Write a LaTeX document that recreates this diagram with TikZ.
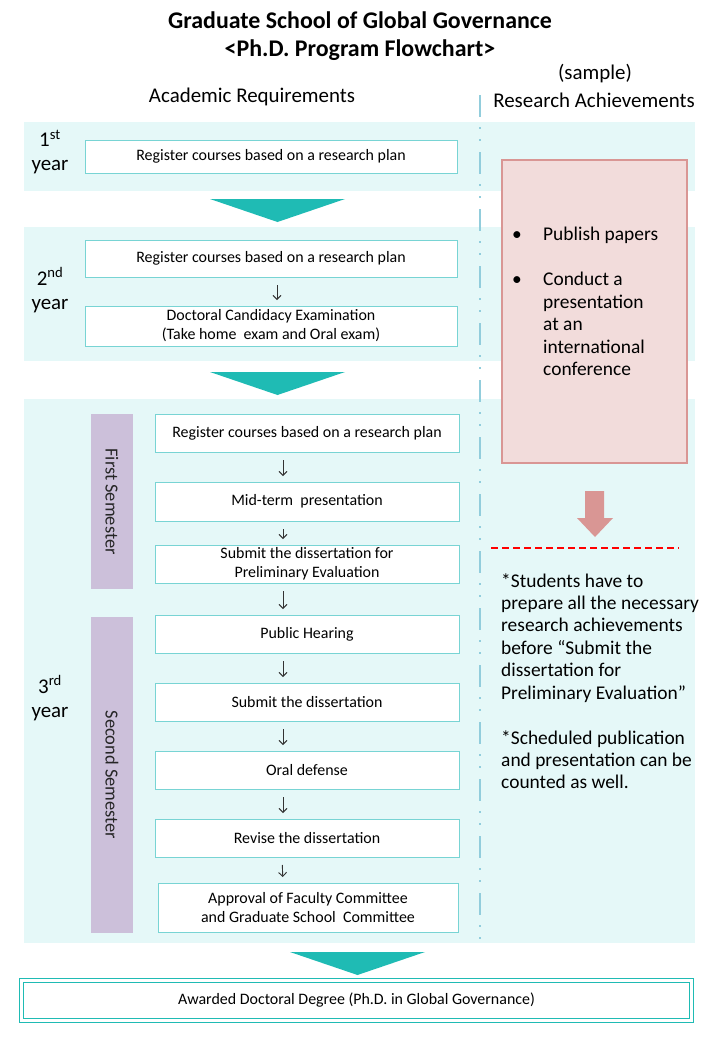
\documentclass[tikz,border=0pt]{standalone}
\usepackage{fontspec}
\setmainfont{Carlito}
\usetikzlibrary{shapes}
\usetikzlibrary{positioning}
\usetikzlibrary{arrows.meta}
\definecolor{bandc}{RGB}{229,248,248}
\definecolor{boxline}{RGB}{120,212,212}
\definecolor{chevc}{RGB}{31,187,180}
\definecolor{semc}{RGB}{204,192,218}
\definecolor{pinkfill}{RGB}{242,220,219}
\definecolor{pinkline}{RGB}{217,150,148}
\definecolor{divc}{RGB}{146,205,220}
\tikzset{
    band/.style = {rectangle, fill=bandc, draw=none, inner sep=0, outer sep=0},
    stepbox/.style = {rectangle, draw=boxline, line width=0.8bp, fill=white, align=center, inner sep=0, outer sep=0, font=\fontsize{16}{19}\selectfont, text=black},
    yearlab/.style = {align=center, font=\fontsize{21}{24}\selectfont, text=black},
    sembar/.style = {rectangle, fill=semc, minimum height=42bp, inner sep=0, rotate=-90, font=\fontsize{18.5}{20}\selectfont, text=black!85},
    headlab/.style = {font=\fontsize{21}{24}\selectfont, text=black},
    flowarr/.style = {-{Straight Barb[length=4bp,width=8bp]}, line width=0.9bp, black!80, shorten <=8bp, shorten >=6bp},
    chev/.style = {fill=chevc, draw=none},
    divider/.style = {divc, line width=2.5bp, dash pattern=on 22bp off 10bp on 2bp off 10bp on 2bp off 11bp},
    notetext/.style = {align=left, anchor=north west, inner sep=0, font=\fontsize{19.5}{22.5}\selectfont, text=black}
}

\begin{document}
\begin{tikzpicture}[x=1bp,y=-1bp]
\useasboundingbox (0,0) rectangle (720,1040);

% title and column heads
\node[font=\fontsize{24}{28}\selectfont\bfseries, align=center] (title) at (360,36) {Graduate School of Global Governance\\<Ph.D. Program Flowchart>};
\node[headlab] (sample) at (595,74) {(sample)};
\node[headlab] (acadhead) at (252,97) {Academic Requirements};
\node[headlab] (reshead) at (594,100) {Research\ Achievements};

% year bands
\node[band, minimum width=671bp, minimum height=69bp] (band1) at (359.5,156.5) {};
\node[band, minimum width=671bp, minimum height=134bp] (band2) at (359.5,294) {};
\node[band, minimum width=671bp, minimum height=544bp] (band3) at (359.5,671) {};

% divider
\coordinate (divtop) at (480,95);
\coordinate (divbot) at (480,950);
\draw[divider] (divtop) -- (divbot);

% chevrons
\fill[chev] (210,199) -- (345,199) -- (277.5,222) -- cycle;
\fill[chev] (210,372) -- (345,372) -- (277.5,395) -- cycle;
\fill[chev] (290,952) -- (425,952) -- (357.5,975) -- cycle;

% year labels
\node[yearlab] (y1) at (50,152) {1\textsuperscript{st}\\year};
\node[yearlab] (y2) at (50,290) {2\textsuperscript{nd}\\year};
\node[yearlab] (y3) at (50,698) {3\textsuperscript{rd}\\year};

% semesters
\node[sembar, minimum width=175bp] (sem1) at (112,501.5) {First Semester};
\node[sembar, minimum width=316bp] (sem2) at (112,775) {Second Semester};

% steps
\node[stepbox, minimum width=372bp, minimum height=33bp] (r1) at (271,156.5) {Register courses based on a research plan};
\node[stepbox, minimum width=372bp, minimum height=37bp] (r2a) at (271,258.5) {Register courses based on a research plan};
\node[stepbox, minimum width=372bp, minimum height=40bp] (r2b) at (271,326) {Doctoral Candidacy Examination\\(Take home\ \ exam and Oral exam)};
\node[stepbox, minimum width=304bp, minimum height=38bp] (s1) at (307,433) {Register courses based on a research plan};
\node[stepbox, minimum width=304bp, minimum height=39bp] (s2) at (307,501.5) {Mid-term\ \ presentation};
\node[stepbox, minimum width=304bp, minimum height=38bp] (s3) at (307,564) {Submit the dissertation for\\Preliminary Evaluation};
\node[stepbox, minimum width=304bp, minimum height=38bp] (s4) at (307,634) {Public Hearing};
\node[stepbox, minimum width=304bp, minimum height=38bp] (s5) at (307,702) {Submit the dissertation};
\node[stepbox, minimum width=304bp, minimum height=38bp] (s6) at (307,770) {Oral defense};
\node[stepbox, minimum width=304bp, minimum height=38bp] (s7) at (307,838) {Revise the dissertation};
\node[stepbox, minimum width=300bp, minimum height=49bp] (s8) at (308,907.5) {Approval of Faculty Committee\\and Graduate School\ \ Committee};

\draw[flowarr] ([xshift=6bp]r2a.south) -- ([xshift=6bp]r2b.north);
\draw[flowarr] ([xshift=-24bp]s1.south) -- ([xshift=-24bp]s2.north);
\draw[flowarr] ([xshift=-24bp]s2.south) -- ([xshift=-24bp]s3.north);
\draw[flowarr] ([xshift=-24bp]s3.south) -- ([xshift=-24bp]s4.north);
\draw[flowarr] ([xshift=-24bp]s4.south) -- ([xshift=-24bp]s5.north);
\draw[flowarr] ([xshift=-24bp]s5.south) -- ([xshift=-24bp]s6.north);
\draw[flowarr] ([xshift=-24bp]s6.south) -- ([xshift=-24bp]s7.north);
\draw[flowarr] ([xshift=-25bp]s7.south) -- ([xshift=-25bp]s8.north);

% degree
\node[stepbox, draw=chevc, line width=1.6bp, double=white, double distance=2.2bp, minimum width=670bp, minimum height=40bp] (degree) at (356.5,1000.5) {Awarded Doctoral Degree (Ph.D. in Global Governance)};

% research achievements
\node[rectangle, fill=pinkfill, draw=pinkline, line width=2.5bp, minimum width=185bp, minimum height=303bp, inner sep=0] (achv) at (594.5,311.5) {};
\node[notetext] (achvtext) at (512,225) {%
\begin{tabular}{@{}p{31bp}@{}l@{}}
\textbullet & Publish papers\\[22.5bp]
\textbullet & Conduct a\\
 & presentation\\
 & at an\\
 & international\\
 & conference
\end{tabular}};
\fill[pinkline] (585,491) -- (604,491) -- (604,518) -- (613,518) -- (595,537) -- (577,518) -- (585,518) -- cycle;
\coordinate (cutl) at (491,548);
\coordinate (cutr) at (679,548);
\draw[red, line width=2bp, dash pattern=on 7bp off 4bp] (cutl) -- (cutr);
\node[notetext] (note) at (501,573) {*Students have to\\prepare all the necessary\\research achievements\\before “Submit the\\dissertation for\\Preliminary Evaluation”\\[22.5bp]*Scheduled publication\\and presentation can be\\counted as well.};
\end{tikzpicture}
\end{document}
